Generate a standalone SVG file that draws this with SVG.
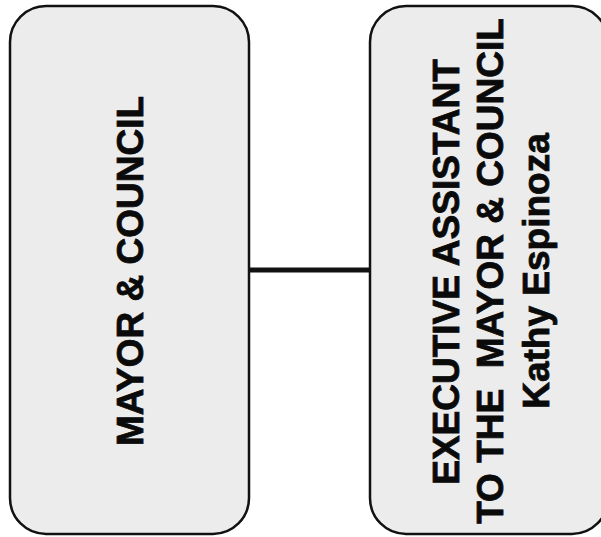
<svg xmlns="http://www.w3.org/2000/svg" width="601" height="537" viewBox="0 0 601 537">
  <style>
    .box { fill: #ececec; stroke: #111; stroke-width: 2.5; }
    .lbl { font-family: "Liberation Sans", Arial, sans-serif; font-weight: bold; font-size: 37px; fill: #0a0a0a; stroke: #0a0a0a; stroke-width: 0.8; text-anchor: middle; white-space: pre; }
    .link { stroke: #111; stroke-width: 5; fill: none; }
  </style>
  <rect width="601" height="537" fill="#fff"/>
  <g id="connectors">
    <line class="link" x1="249" y1="270" x2="370" y2="270"/>
  </g>
  <g id="mayor-council">
    <rect class="box" x="10" y="6" width="239" height="528" rx="36" ry="36"/>
    <text class="lbl" transform="translate(143,271) rotate(-90)">MAYOR &amp; COUNCIL</text>
  </g>
  <g id="executive-assistant">
    <rect class="box" x="370" y="6" width="238" height="528" rx="36" ry="36"/>
    <text class="lbl" transform="translate(459,272) rotate(-90)">EXECUTIVE ASSISTANT</text>
    <text class="lbl" xml:space="preserve" transform="translate(503,271) rotate(-90)">TO THE  MAYOR &amp; COUNCIL</text>
    <text class="lbl" transform="translate(549,271) rotate(-90)">Kathy Espinoza</text>
  </g>
</svg>
